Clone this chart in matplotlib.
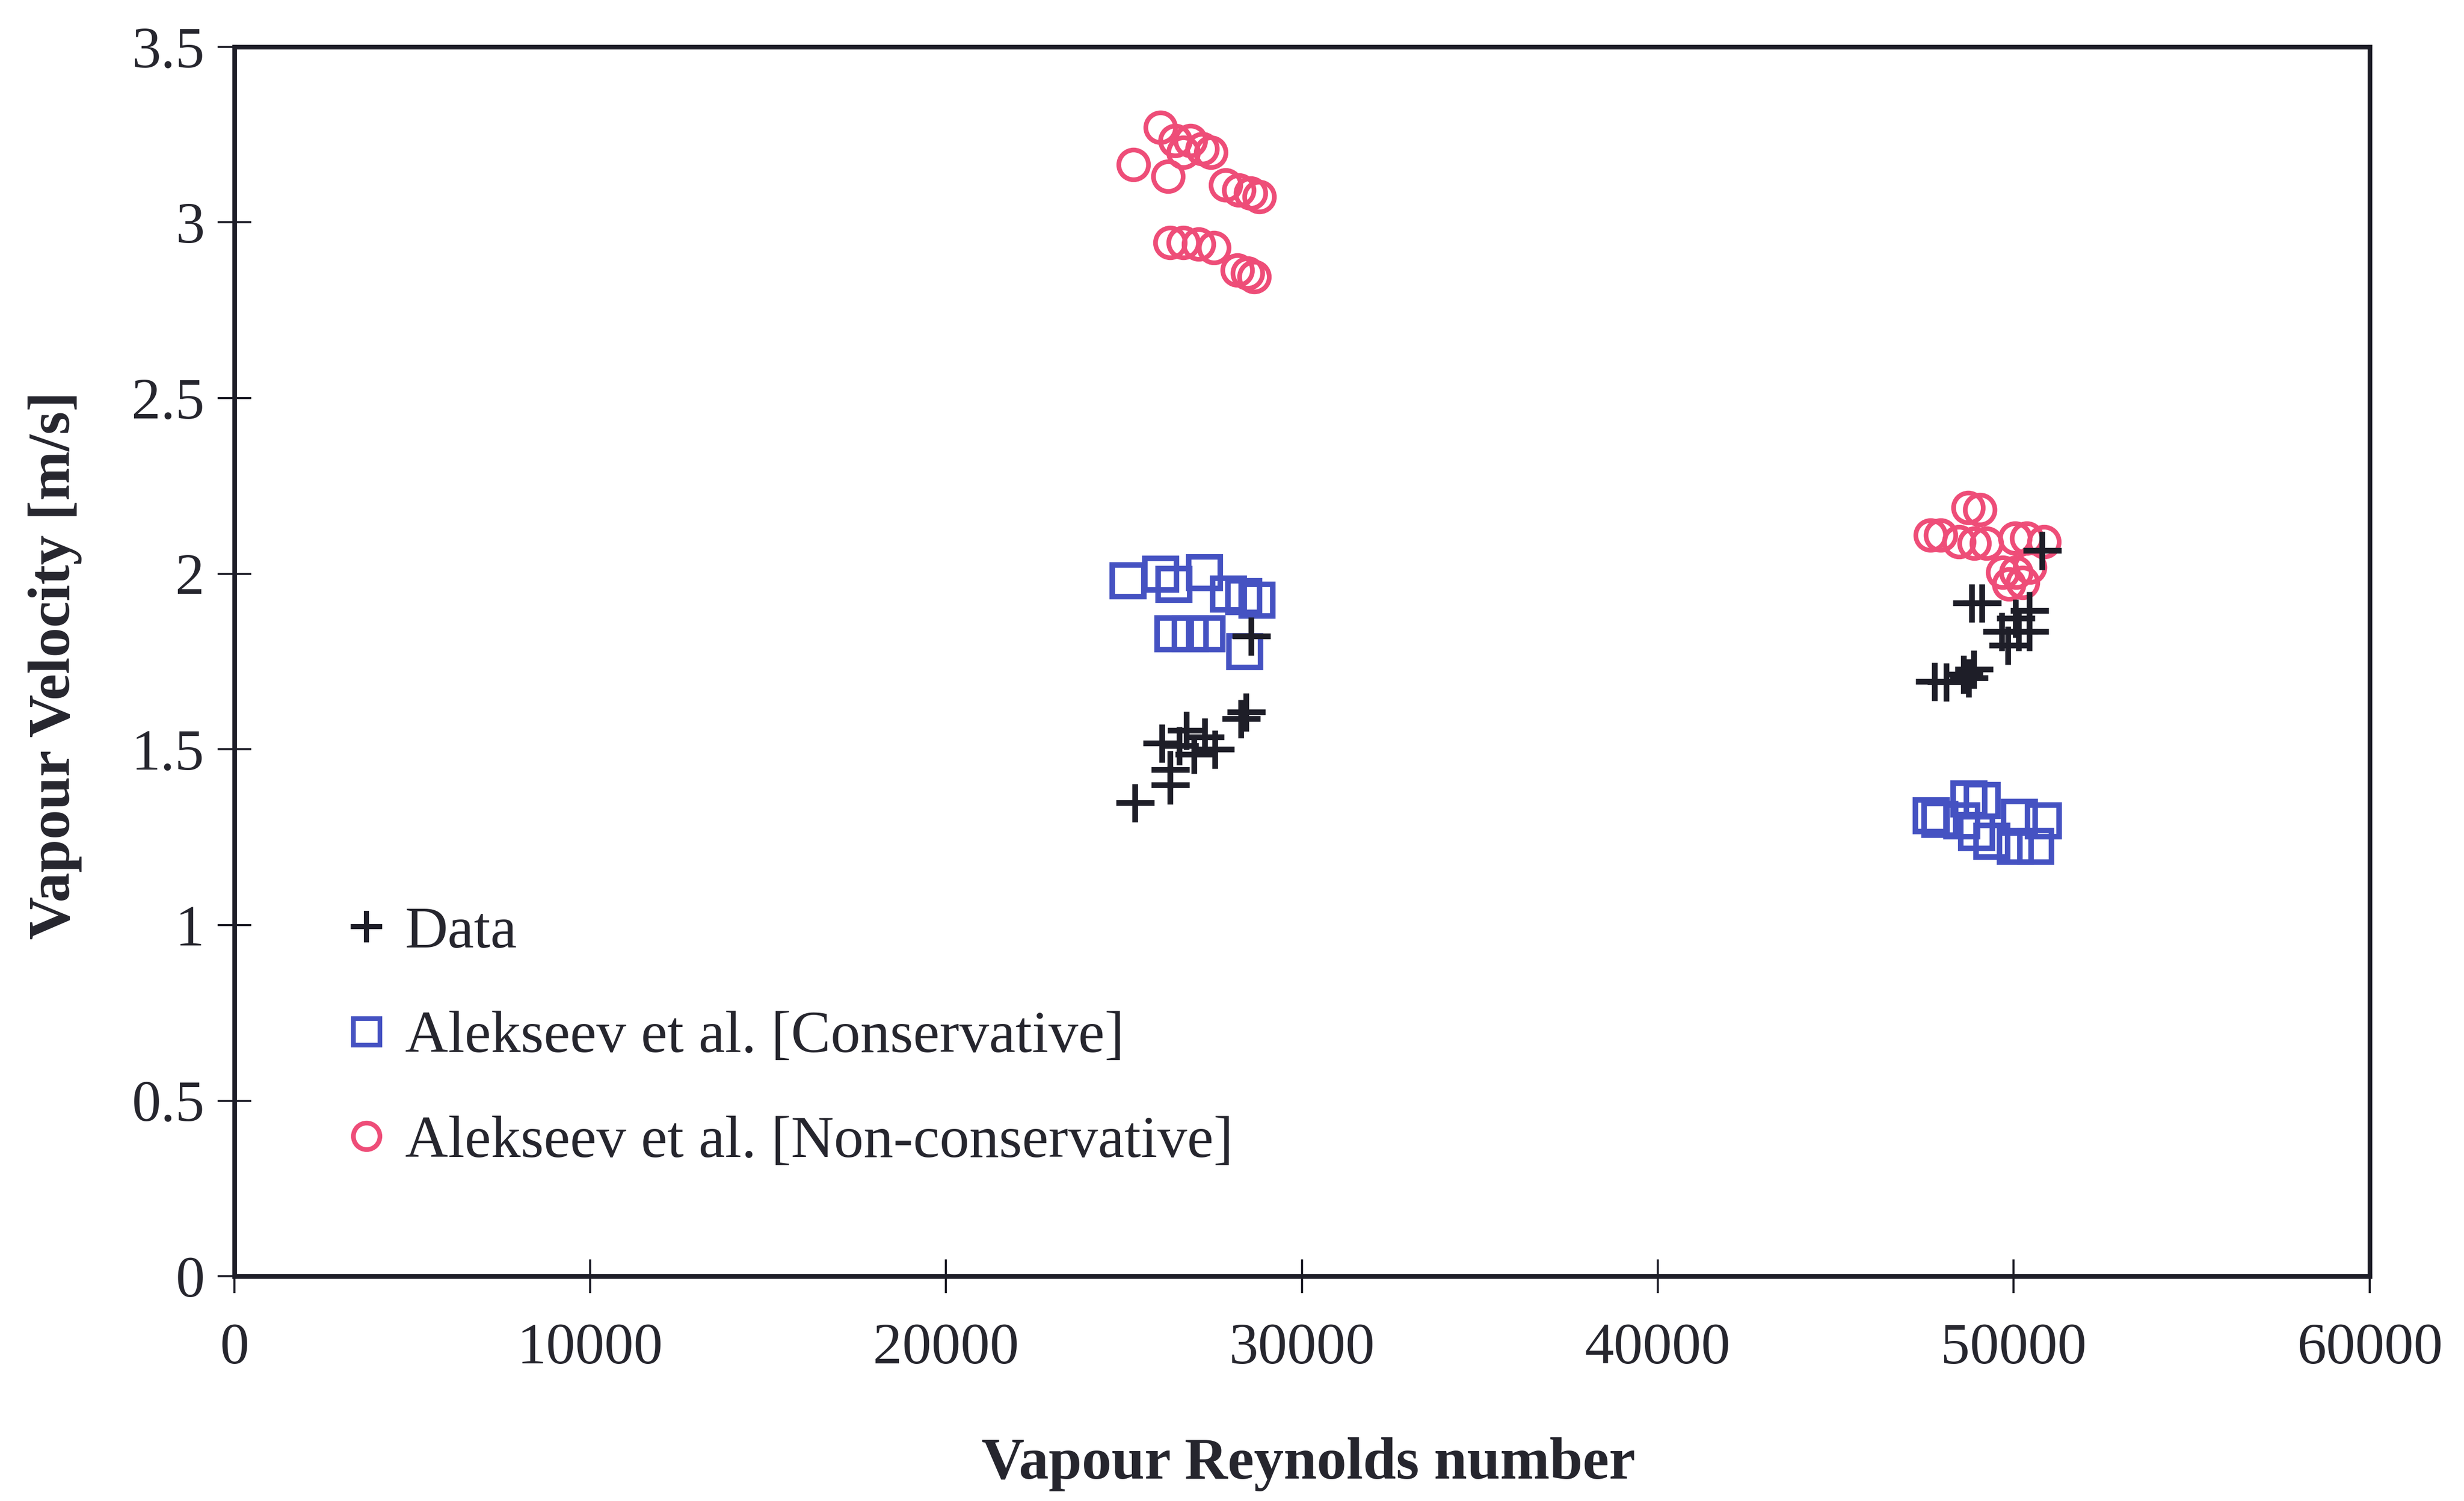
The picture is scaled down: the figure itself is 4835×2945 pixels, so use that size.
import matplotlib
matplotlib.use("Agg")
import matplotlib.pyplot as plt
from matplotlib.lines import Line2D

# Measured data points
data_re = [25300, 26290, 26290, 26070, 26550, 26750, 26970, 27270, 27550, 28290, 28430, 28570,
           47780, 48110, 48590, 48730, 48880, 48820, 49100, 49660, 49840, 50050, 50140, 50430,
           50430, 50800]
data_v = [1.348, 1.399, 1.443, 1.518, 1.510, 1.554, 1.486, 1.535, 1.501, 1.588, 1.607, 1.822,
          1.694, 1.692, 1.714, 1.704, 1.728, 1.917, 1.917, 1.835, 1.796, 1.873, 1.835, 1.835,
          1.895, 2.067]

# Alekseev et al. correlation, conservative form
cons_re = [25100, 26020, 26400, 27260, 27920, 28350, 28730, 26370, 26850, 27330, 28390,
           47670, 47910, 48730, 49110, 48530, 48950, 50150, 50820, 49380, 50040, 50610]
cons_v = [1.980, 1.999, 1.970, 2.004, 1.943, 1.936, 1.926, 1.830, 1.830, 1.830, 1.779,
          1.312, 1.302, 1.360, 1.356, 1.298, 1.264, 1.307, 1.298, 1.240, 1.225, 1.225]

# Alekseev et al. correlation, non-conservative form
noncons_re = [25260, 26020, 26230, 26440, 26870, 26670, 27200, 27440, 27850, 28230, 28560, 28800,
              26290, 26670, 27100, 27530, 28190, 28470, 28660,
              47660, 47940, 48720, 49050, 48460, 48890, 49230, 50040, 50370, 50850,
              49690, 50070, 50450, 49870, 50250]
noncons_v = [3.165, 3.271, 3.131, 3.233, 3.233, 3.199, 3.209, 3.199, 3.107, 3.092, 3.083, 3.073,
             2.942, 2.942, 2.938, 2.928, 2.865, 2.855, 2.846,
             2.110, 2.110, 2.188, 2.183, 2.091, 2.086, 2.086, 2.101, 2.101, 2.091,
             2.004, 2.004, 2.018, 1.970, 1.975]

x_ticks = [0, 10000, 20000, 30000, 40000, 50000, 60000]
y_ticks = [0, 0.5, 1, 1.5, 2, 2.5, 3, 3.5]
y_tick_labels = ["0", "0.5", "1", "1.5", "2", "2.5", "3", "3.5"]

plt.rcParams["font.family"] = ["Liberation Serif", "DejaVu Serif"]
text_color = "#26262e"
black = "#1e1e28"
blue = "#4552c2"
pink = "#ee4d78"

fig = plt.figure(figsize=(4835 / 300, 2945 / 300), dpi=300)
ax = fig.add_axes([0.0951, 0.1497, 0.9617 - 0.0951, 0.9688 - 0.1497])

ax.plot(noncons_re, noncons_v, linestyle="none", marker="o", markersize=14,
        markerfacecolor="none", markeredgecolor=pink, markeredgewidth=2.2, zorder=3)
ax.plot(cons_re, cons_v, linestyle="none", marker="s", markersize=15,
        markerfacecolor="none", markeredgecolor=blue, markeredgewidth=2.6, zorder=4)
ax.plot(data_re, data_v, linestyle="none", marker="+", markersize=18,
        markeredgecolor=black, markeredgewidth=2.7, zorder=5)

ax.set_xlim(0, 60000)
ax.set_ylim(0, 3.5)
ax.set_xticks(x_ticks)
ax.set_xticklabels([str(t) for t in x_ticks])
ax.set_yticks(y_ticks)
ax.set_yticklabels(y_tick_labels)

for s in ax.spines.values():
    s.set_linewidth(2.2)
    s.set_color(black)

ax.tick_params(axis="both", direction="inout", length=16, width=1.0, color=black,
               labelsize=27.5, labelcolor=text_color)
ax.tick_params(axis="x", pad=14)
ax.tick_params(axis="y", pad=6)

ax.set_xlabel("Vapour Reynolds number", fontsize=28, fontweight="bold",
              color=text_color, va="center")
ax.xaxis.set_label_coords(0.503, -0.153)
ax.set_ylabel("Vapour Velocity [m/s]", fontsize=28, fontweight="bold",
              color=text_color, va="center")
ax.yaxis.set_label_coords(-0.084, 0.497)

handles = [
    Line2D([], [], linestyle="none", marker="+", markersize=15, markeredgecolor=black,
           markeredgewidth=2.4),
    Line2D([], [], linestyle="none", marker="s", markersize=12.5, markerfacecolor="none",
           markeredgecolor=blue, markeredgewidth=2.2),
    Line2D([], [], linestyle="none", marker="o", markersize=12.5, markerfacecolor="none",
           markeredgecolor=pink, markeredgewidth=2.2),
]
labels = ["Data", "Alekseev et al. [Conservative]", "Alekseev et al. [Non-conservative]"]
leg = ax.legend(handles, labels, loc="center left", bbox_to_anchor=(0.048, 0.194),
                frameon=False, fontsize=28, handlelength=1.0, handletextpad=0.15,
                labelspacing=0.85, borderpad=0, borderaxespad=0)
for t in leg.get_texts():
    t.set_color(text_color)

fig.savefig("out.png", dpi=300, facecolor="white")
